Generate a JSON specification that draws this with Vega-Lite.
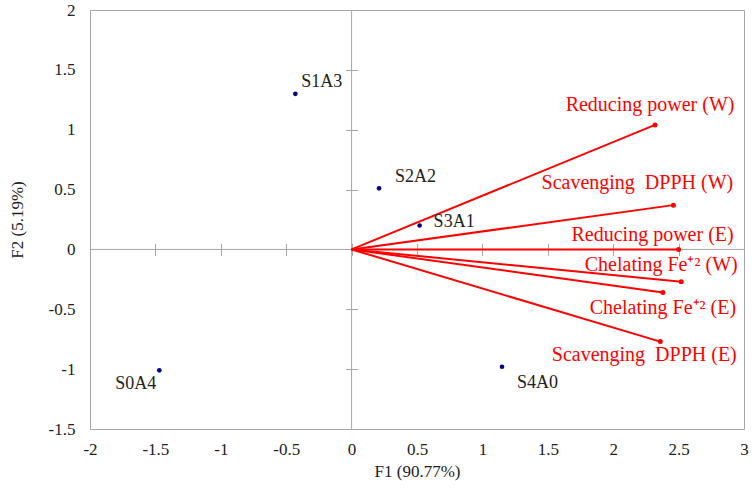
{
  "$schema": "https://vega.github.io/schema/vega-lite/v6.json",
  "width": 654,
  "height": 419,
  "autosize": {"type": "none"},
  "padding": {"left": 90, "top": 10, "right": 9, "bottom": 60},
  "background": "white",
  "config": {
    "view": {"stroke": "#a6a6a6", "strokeWidth": 1},
    "font": "Liberation Serif",
    "axis": {"labelFont": "Liberation Serif", "titleFont": "Liberation Serif", "labelColor": "#222", "titleColor": "#222", "labelFontSize": 17, "titleFontSize": 17, "titleFontWeight": "normal", "grid": false}
  },
  "datasets": {
    "scores": [
      {"sample": "S1A3", "F1": -0.43, "F2": 1.30},
      {"sample": "S2A2", "F1": 0.21, "F2": 0.51},
      {"sample": "S3A1", "F1": 0.52, "F2": 0.20},
      {"sample": "S4A0", "F1": 1.15, "F2": -0.98},
      {"sample": "S0A4", "F1": -1.47, "F2": -1.01}
    ],
    "loadings": [
      {"name": "Reducing power (W)", "F1": 2.32, "F2": 1.04},
      {"name": "Scavenging\u00a0 DPPH (W)", "F1": 2.46, "F2": 0.37},
      {"name": "Reducing power (E)", "F1": 2.50, "F2": 0.0},
      {"name": "Chelating Fe\u207a\u00b2 (W)", "F1": 2.52, "F2": -0.27},
      {"name": "Chelating Fe\u207a\u00b2 (E)", "F1": 2.38, "F2": -0.36},
      {"name": "Scavenging\u00a0 DPPH (E)", "F1": 2.36, "F2": -0.77}
    ],
    "origin": [{"F1": 0, "F2": 0}]
  },
  "resolve": {"axis": {"x": "independent", "y": "independent"}},
  "layer": [
    {
      "data": {"name": "scores"},
      "mark": {"type": "point", "filled": true, "color": "#000080", "size": 22, "opacity": 1},
      "encoding": {
        "x": {"field": "F1", "type": "quantitative", "scale": {"domain": [-2, 3], "nice": false, "zero": false},
              "axis": {"title": "F1 (90.77%)", "values": [-2, -1.5, -1, -0.5, 0, 0.5, 1, 1.5, 2, 2.5, 3], "labelExpr": "datum.value + ''", "ticks": false, "domain": false, "labelPadding": 12, "titlePadding": 6, "labelFlush": false}},
        "y": {"field": "F2", "type": "quantitative", "scale": {"domain": [-1.5, 2], "nice": false, "zero": false},
              "axis": {"title": "F2 (5.19%)", "values": [-1.5, -1, -0.5, 0, 0.5, 1, 1.5, 2], "labelExpr": "datum.value + ''", "ticks": false, "domain": false, "labelPadding": 15, "titlePadding": 22, "labelFlush": false}}
      }
    },
    {
      "data": {"name": "origin"},
      "mark": {"type": "rule", "color": "#a6a6a6", "strokeWidth": 1},
      "encoding": {
        "x": {"field": "F1", "type": "quantitative",
              "axis": {"orient": "top", "offset": -245.4, "labels": false, "domain": false, "ticks": true, "tickSize": 12, "tickColor": "#a6a6a6", "title": null, "values": [-2, -1.5, -1, -0.5, 0, 0.5, 1, 1.5, 2, 2.5, 3]}},
        "y": {"datum": -1.5, "type": "quantitative", "axis": null},
        "y2": {"datum": 2}
      }
    },
    {
      "data": {"name": "origin"},
      "mark": {"type": "rule", "color": "#a6a6a6", "strokeWidth": 1},
      "encoding": {
        "y": {"field": "F2", "type": "quantitative",
              "axis": {"orient": "right", "offset": -398.4, "labels": false, "domain": false, "ticks": true, "tickSize": 12, "tickColor": "#a6a6a6", "title": null, "values": [-1.5, -1, -0.5, 0, 0.5, 1, 1.5, 2]}},
        "x": {"datum": -2, "type": "quantitative", "axis": null},
        "x2": {"datum": 3}
      }
    },
    {
      "data": {"name": "loadings"},
      "mark": {"type": "rule", "color": "#ff0000", "strokeWidth": 2},
      "encoding": {
        "x": {"field": "F1", "type": "quantitative", "axis": null},
        "y": {"field": "F2", "type": "quantitative", "axis": null},
        "x2": {"datum": 0},
        "y2": {"datum": 0}
      }
    },
    {
      "data": {"name": "loadings"},
      "mark": {"type": "point", "filled": true, "color": "#ff0000", "size": 25, "opacity": 1},
      "encoding": {
        "x": {"field": "F1", "type": "quantitative", "axis": null},
        "y": {"field": "F2", "type": "quantitative", "axis": null}
      }
    },
    {
      "data": {"name": "loadings"},
      "transform": [{"filter": "datum.name == 'Reducing power (W)'"}],
      "mark": {"type": "text", "color": "#ff0000", "fontSize": 20, "font": "Liberation Serif", "align": "center", "baseline": "middle", "dx": -5, "dy": -20},
      "encoding": {"x": {"field": "F1", "type": "quantitative", "axis": null}, "y": {"field": "F2", "type": "quantitative", "axis": null}, "text": {"field": "name"}}
    },
    {
      "data": {"name": "loadings"},
      "transform": [{"filter": "datum.name == 'Scavenging\u00a0 DPPH (W)'"}],
      "mark": {"type": "text", "color": "#ff0000", "fontSize": 20, "font": "Liberation Serif", "align": "center", "baseline": "middle", "dx": -36, "dy": -22},
      "encoding": {"x": {"field": "F1", "type": "quantitative", "axis": null}, "y": {"field": "F2", "type": "quantitative", "axis": null}, "text": {"field": "name"}}
    },
    {
      "data": {"name": "loadings"},
      "transform": [{"filter": "datum.name == 'Reducing power (E)'"}],
      "mark": {"type": "text", "color": "#ff0000", "fontSize": 20, "font": "Liberation Serif", "align": "center", "baseline": "middle", "dx": -26, "dy": -14},
      "encoding": {"x": {"field": "F1", "type": "quantitative", "axis": null}, "y": {"field": "F2", "type": "quantitative", "axis": null}, "text": {"field": "name"}}
    },
    {
      "data": {"name": "loadings"},
      "transform": [{"filter": "datum.name == 'Chelating Fe\u207a\u00b2 (W)'"}],
      "mark": {"type": "text", "color": "#ff0000", "fontSize": 20, "font": "Liberation Serif", "align": "center", "baseline": "middle", "dx": -20, "dy": -17},
      "encoding": {"x": {"field": "F1", "type": "quantitative", "axis": null}, "y": {"field": "F2", "type": "quantitative", "axis": null}, "text": {"field": "name"}}
    },
    {
      "data": {"name": "loadings"},
      "transform": [{"filter": "datum.name == 'Chelating Fe\u207a\u00b2 (E)'"}],
      "mark": {"type": "text", "color": "#ff0000", "fontSize": 20, "font": "Liberation Serif", "align": "center", "baseline": "middle", "dx": 0, "dy": 15},
      "encoding": {"x": {"field": "F1", "type": "quantitative", "axis": null}, "y": {"field": "F2", "type": "quantitative", "axis": null}, "text": {"field": "name"}}
    },
    {
      "data": {"name": "loadings"},
      "transform": [{"filter": "datum.name == 'Scavenging\u00a0 DPPH (E)'"}],
      "mark": {"type": "text", "color": "#ff0000", "fontSize": 20, "font": "Liberation Serif", "align": "center", "baseline": "middle", "dx": -16, "dy": 13},
      "encoding": {"x": {"field": "F1", "type": "quantitative", "axis": null}, "y": {"field": "F2", "type": "quantitative", "axis": null}, "text": {"field": "name"}}
    },
    {
      "data": {"name": "scores"},
      "transform": [{"filter": "datum.sample == 'S1A3'"}],
      "mark": {"type": "text", "color": "#222", "fontSize": 18, "font": "Liberation Serif", "align": "left", "baseline": "middle", "dx": 6, "dy": -12},
      "encoding": {"x": {"field": "F1", "type": "quantitative", "axis": null}, "y": {"field": "F2", "type": "quantitative", "axis": null}, "text": {"field": "sample"}}
    },
    {
      "data": {"name": "scores"},
      "transform": [{"filter": "datum.sample == 'S2A2'"}],
      "mark": {"type": "text", "color": "#222", "fontSize": 18, "font": "Liberation Serif", "align": "left", "baseline": "middle", "dx": 16, "dy": -11},
      "encoding": {"x": {"field": "F1", "type": "quantitative", "axis": null}, "y": {"field": "F2", "type": "quantitative", "axis": null}, "text": {"field": "sample"}}
    },
    {
      "data": {"name": "scores"},
      "transform": [{"filter": "datum.sample == 'S3A1'"}],
      "mark": {"type": "text", "color": "#222", "fontSize": 18, "font": "Liberation Serif", "align": "left", "baseline": "middle", "dx": 14, "dy": -3},
      "encoding": {"x": {"field": "F1", "type": "quantitative", "axis": null}, "y": {"field": "F2", "type": "quantitative", "axis": null}, "text": {"field": "sample"}}
    },
    {
      "data": {"name": "scores"},
      "transform": [{"filter": "datum.sample == 'S4A0'"}],
      "mark": {"type": "text", "color": "#222", "fontSize": 18, "font": "Liberation Serif", "align": "left", "baseline": "middle", "dx": 15, "dy": 16},
      "encoding": {"x": {"field": "F1", "type": "quantitative", "axis": null}, "y": {"field": "F2", "type": "quantitative", "axis": null}, "text": {"field": "sample"}}
    },
    {
      "data": {"name": "scores"},
      "transform": [{"filter": "datum.sample == 'S0A4'"}],
      "mark": {"type": "text", "color": "#222", "fontSize": 18, "font": "Liberation Serif", "align": "right", "baseline": "middle", "dx": -3, "dy": 14},
      "encoding": {"x": {"field": "F1", "type": "quantitative", "axis": null}, "y": {"field": "F2", "type": "quantitative", "axis": null}, "text": {"field": "sample"}}
    }
  ]
}
